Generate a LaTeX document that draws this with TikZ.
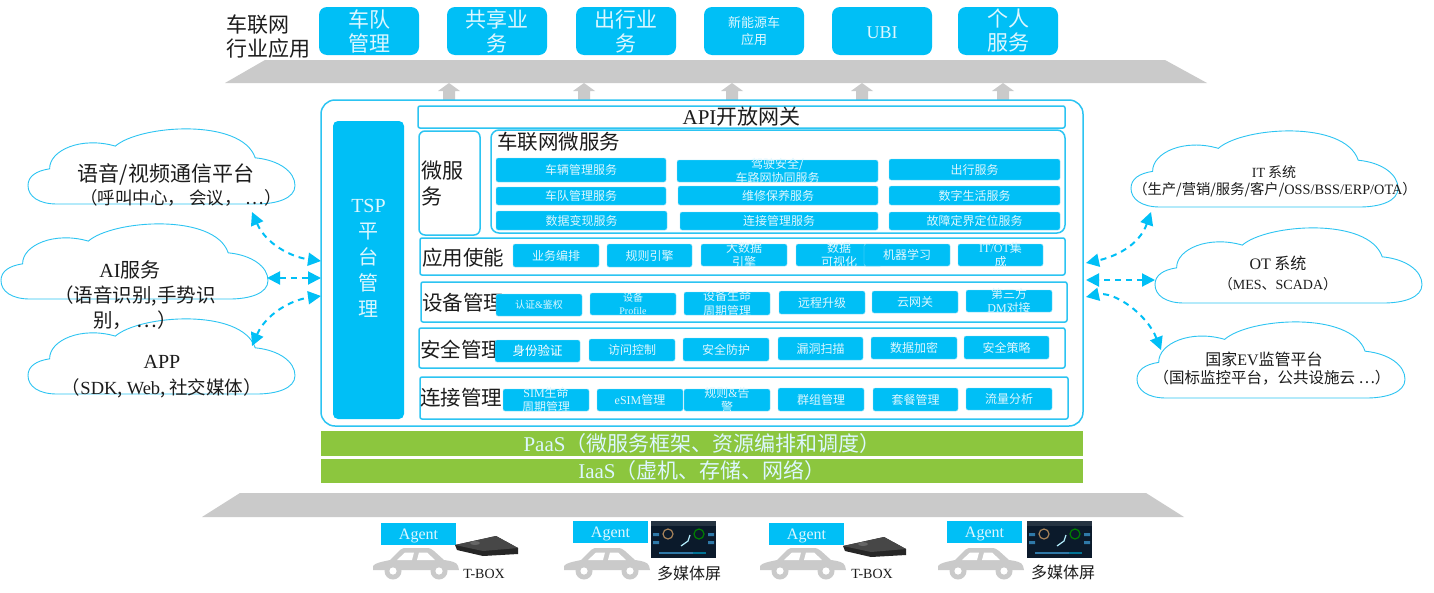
\documentclass[tikz,border=0pt]{standalone}
\usepackage{fontspec}
\setmainfont{Noto Sans CJK SC}
\newfontfamily\latinf{Liberation Serif}
\newcommand\la[1]{{\latinf #1}}
\usetikzlibrary{arrows.meta}
\definecolor{cy}{HTML}{00BFF6}
\definecolor{cyl}{HTML}{2CC4F2}
\definecolor{gr}{HTML}{8CC63E}
\definecolor{gy}{HTML}{CACACA}
\definecolor{pale}{HTML}{DDF7FF}
\definecolor{ink}{HTML}{1C1C1C}
\tikzset{
 x=1pt,y=-1pt,
 base/.style={inner sep=0pt,outer sep=0pt,rectangle},
 panel/.style={base,draw=cyl,line width=1.5pt,fill=white,rounded corners=2pt},
 btn/.style={base,fill=cy,draw=cyl!50,line width=.4pt,rounded corners=2pt},
 app/.style={base,fill=cy,rounded corners=8pt},
 lbl/.style={inner sep=0pt,outer sep=0pt,align=center,text=pale},
 blk/.style={inner sep=0pt,outer sep=0pt,align=center,text=ink},
 s10/.style={font=\fontsize{10}{13}\selectfont},
 s12/.style={font=\fontsize{12}{14.5}\selectfont},
 s13/.style={font=\fontsize{13}{17}\selectfont},
 s14/.style={font=\fontsize{14}{18}\selectfont},
 s16/.style={font=\fontsize{16}{20}\selectfont},
 s18/.style={font=\fontsize{18}{22}\selectfont},
 s20/.style={font=\fontsize{20}{25}\selectfont},
 s21/.style={font=\fontsize{21}{24}\selectfont},
 s205/.style={font=\fontsize{20.5}{25.5}\selectfont},
 agentlbl/.style={font=\fontsize{16}{18}\selectfont\latinf,yshift=-2pt},
 biarrow/.style={cy,line width=2pt,dash pattern=on 6pt off 5pt,{Triangle[length=13pt,width=13pt]}-{Triangle[length=13pt,width=13pt]}},
 cloudline/.style={draw=cyl,line width=.9pt},
 up/.style={fill=gy,draw=none},
}
% [box style]{name}{x1}{y1}{x2}{y2}{label style}{text}
\newcommand\Bx[8][btn]{%
 \pgfmathsetmacro\cx{(#3+#5)/2}\pgfmathsetmacro\cy{(#4+#6)/2}%
 \pgfmathsetmacro\ww{#5-#3}\pgfmathsetmacro\hh{#6-#4}%
 \node[#1,minimum width=\ww pt,minimum height=\hh pt] (#2) at (\cx,\cy) {};
 \node[lbl,#7] (#2t) at (#2.center) {#8};
}
\newcommand\Cloud[5]{%
 \pgfmathsetmacro\cx{(#2+#4)/2}\pgfmathsetmacro\cy{(#3+#5)/2}%
 \pgfmathsetmacro\ww{#4-#2}\pgfmathsetmacro\hh{#5-#3}%
 \node[base,minimum width=\ww pt,minimum height=\hh pt] (#1) at (\cx,\cy) {};
 \begin{scope}[shift={(#2,#3)},x=\ww pt,y=-\hh pt]
  \draw[cloudline] (.081,.543) .. controls (.08,.30) and (.20,.12) .. (.327,.248)
   .. controls (.42,-.03) and (.80,-.12) .. (.851,.40)
   .. controls (.94,.43) and (1,.58) .. (1,.76)
   .. controls (1,.93) and (.93,1) .. (.856,1)
   -- (.108,1)
   .. controls (.04,1) and (0,.90) .. (0,.76)
   .. controls (0,.64) and (.03,.57) .. (.081,.543) -- cycle;
 \end{scope}
}
\newcommand\Car[2]{%
 \begin{scope}[shift={(#1,#2)}]
  \fill[gy] (0,24) -- (0,20) .. controls (2,17) and (8,16) .. (17,14) -- (27,4)
   .. controls (29,2) and (31,2) .. (34,2) -- (53,2) .. controls (57,2) and (59,3) .. (61,5)
   -- (71,14) .. controls (78,15) and (84,16) .. (85,20) -- (86,24) -- cycle;
  \fill[white] (24,14) -- (32,6.5) -- (41,6.5) -- (39,14) -- cycle;
  \fill[white] (44,14) -- (46,6.5) -- (54,6.5) -- (62,14) -- cycle;
  \fill[gy] (20,25) circle (8.5pt) (66,25) circle (8.5pt);
  \fill[white] (20,25) circle (3.6pt) (66,25) circle (3.6pt);
 \end{scope}
}
\newcommand\Tbox[2]{%
 \begin{scope}[shift={(#1,#2)}]
  \fill[black!85] (0,9) -- (41,0) -- (63,12) -- (63,18) -- (28,20) -- (2,14) -- cycle;
  \fill[black!72] (0,9) -- (41,0) -- (63,12) -- (28,15) -- cycle;
  \fill[black!60] (20,7) ellipse (5pt and 2pt);
 \end{scope}
}
\definecolor{scrdark}{HTML}{0B1A2B}
\definecolor{scrbar}{HTML}{263442}
\definecolor{scrring}{HTML}{A8835A}
\definecolor{scrblue}{HTML}{2F79A8}
\newcommand\Screen[2]{%
 \begin{scope}[shift={(#1,#2)}]
  \fill[scrdark] (0,0) rectangle (65,37);
  \fill[scrbar] (0,0) rectangle (65,5);
  \draw[scrring,line width=1.2pt] (17,13) circle (5pt);
  \draw[green!50!black,line width=1.2pt] (48,13) circle (5pt);
  \fill[scrblue] (2,12) rectangle (8,15) (2,20) rectangle (8,23) (57,12) rectangle (63,15) (57,20) rectangle (63,23);
  \draw[white!70!cy,line width=1.2pt] (30,25) -- (37,20) -- (39,14);
  \fill[scrblue] (8,31) rectangle (42,32.5);
  \fill[black!40!cy] (42,31) rectangle (55,32.5);
 \end{scope}
}
\begin{document}
\begin{tikzpicture}
\useasboundingbox[fill=white] (0,0) rectangle (1434,592);

% top band
\fill[gy] (265,60) -- (1165,60) -- (1207,83) -- (225,83) -- cycle;
% up arrows
\foreach \n/\a in {1/449,2/584,3/732,4/862,5/1003}{
 \fill[up] (\a-6,101) -- (\a-6,91) -- (\a-11,91) -- (\a,83) -- (\a+11,91) -- (\a+6,91) -- (\a+6,101) -- cycle;
}
% applications
\node[blk,s21,align=left,anchor=west] (apptitle) at (226,37) {车联网\\行业应用};
\Bx[app]{a1}{319}{7}{419}{55}{s21}{车队\\管理}
\Bx[app]{a2}{447}{7}{547}{55}{s21}{共享业\\务}
\Bx[app]{a3}{576}{7}{676}{55}{s21}{出行业\\务}
\Bx[app]{a4}{704}{7}{804}{55}{s13}{新能源车\\应用}
\Bx[app]{a5}{832}{7}{932}{55}{font=\fontsize{18}{22}\selectfont,yshift=-2pt}{\la{UBI}}
\Bx[app]{a6}{958}{7}{1058}{55}{s21}{个人\\服务}

% main panel
\Bx[panel,rounded corners=14pt]{main}{321}{100}{1083}{426}{s12}{}
\Bx[app,rounded corners=5pt]{tsp}{333}{121}{404}{419}{font=\fontsize{20}{26}\selectfont,yshift=12pt}{\la{TSP}\\平\\台\\管\\理}
\Bx[panel]{api}{418}{106}{1065}{128}{text=ink,s21}{\la{API}开放网关}

\Bx[panel,rounded corners=6pt]{wfw}{419}{131}{480}{235}{s12}{}
\node[blk,s21,align=left,anchor=west,font=\fontsize{21}{26}\selectfont] (wfwt) at (421,183) {微服\\务};
\Bx[panel,rounded corners=8pt]{clw}{491}{130}{1065}{233}{s12}{}
\node[blk,s205,anchor=west] (clwt) at (497,142) {车联网微服务};

\Bx{s11}{496}{158}{666}{182}{s12}{车辆管理服务}
\Bx{s12}{677}{160}{878}{182}{s12}{驾驶安全/\\车路网协同服务}
\Bx{s13}{889}{159}{1060}{180}{s12}{出行服务}
\Bx{s21}{496}{187}{666}{205}{s12}{车队管理服务}
\Bx{s22}{678}{186}{878}{205}{s12}{维修保养服务}
\Bx{s23}{889}{186}{1060}{205}{s12}{数字生活服务}
\Bx{s31}{496}{211}{667}{230}{s12}{数据变现服务}
\Bx{s32}{680}{212}{878}{230}{s12}{连接管理服务}
\Bx{s33}{889}{212}{1060}{230}{s12}{故障定界定位服务}

% enablement
\Bx[panel]{r1}{420}{238}{1065}{275}{s12}{}
\node[blk,s205,anchor=west] (r1t) at (422,258) {应用使能};
\Bx{e1}{513}{244}{599}{267}{s12}{业务编排}
\Bx{e2}{607}{244}{692}{267}{s12}{规则引擎}
\Bx{e3}{701}{244}{787}{266}{s12}{大数据\\引擎}
\Bx{e4}{796}{244}{882}{266}{s12}{数据\\可视化}
\Bx{e5}{864}{244}{950}{266}{s12}{机器学习}
\Bx{e6}{958}{244}{1043}{266}{s12}{\la{IT/OT}集\\成}

% device
\Bx[panel]{r2}{421}{282}{1067}{322}{s12}{}
\node[blk,s205,anchor=west] (r2t) at (422,303) {设备管理};
\Bx{d1}{496}{294}{582}{316}{s10}{认证\la{\&}鉴权}
\Bx{d2}{590}{293}{676}{315}{s10}{设备\\\la{Profile}}
\Bx{d3}{684}{292}{770}{315}{s12}{设备生命\\周期管理}
\Bx{d4}{779}{291}{865}{314}{s12}{远程升级}
\Bx{d5}{872}{291}{958}{313}{s12}{云网关}
\Bx{d6}{966}{290}{1052}{312}{s12}{第三方\\\la{DM}对接}

% security
\Bx[panel]{r3}{419}{328}{1065}{368}{s12}{}
\node[blk,s205,anchor=west] (r3t) at (420,350) {安全管理};
\Bx{f1}{495}{340}{580}{362}{text=white,font=\fontsize{12.5}{15}\selectfont}{身份验证}
\Bx{f2}{589}{339}{675}{361}{s12}{访问控制}
\Bx{f3}{683}{338}{769}{361}{s12}{安全防护}
\Bx{f4}{778}{337}{863}{360}{s12}{漏洞扫描}
\Bx{f5}{871}{337}{957}{359}{s12}{数据加密}
\Bx{f6}{964}{336}{1049}{359}{s12}{安全策略}

% connectivity
\Bx[panel]{r4}{420}{377}{1068}{419}{s12}{}
\node[blk,s205,anchor=west] (r4t) at (420,398) {连接管理};
\Bx{g1}{503}{389}{589}{411}{s12}{\la{SIM}生命\\周期管理}
\Bx{g2}{597}{389}{683}{411}{s12}{\la{eSIM}管理}
\Bx{g3}{684}{389}{770}{411}{s12}{规则\la{\&}告\\警}
\Bx{g4}{778}{388}{864}{411}{s12}{群组管理}
\Bx{g5}{873}{388}{958}{411}{s12}{套餐管理}
\Bx{g6}{966}{388}{1052}{410}{s12}{流量分析}

% PaaS IaaS
\Bx[base,fill=gr]{paas}{321}{431}{1083}{456}{font=\fontsize{21}{24}\selectfont}{\la{PaaS}（微服务框架、资源编排和调度）}
\Bx[base,fill=gr]{iaas}{321}{459}{1083}{483}{font=\fontsize{21}{24}\selectfont}{\la{IaaS}（虚机、存储、网络）}

% bottom band
\fill[gy] (240,493) -- (1146,493) -- (1184,517) -- (202,517) -- cycle;

% vehicles
\Car{373}{546}\Car{564}{546}\Car{760}{546}\Car{938}{546}
\Bx[base,fill=cy]{ag1}{381}{523}{456}{545}{agentlbl}{Agent}
\Bx[base,fill=cy]{ag2}{573}{521}{648}{543}{agentlbl}{Agent}
\Bx[base,fill=cy]{ag3}{769}{523}{844}{545}{agentlbl}{Agent}
\Bx[base,fill=cy]{ag4}{947}{521}{1022}{543}{agentlbl}{Agent}
\Tbox{455}{536}\Tbox{843}{537}
\Screen{651}{521}\Screen{1027}{521}
\node[blk,font=\fontsize{14}{16}\selectfont\latinf] (v1) at (484,574) {T-BOX};
\node[blk,s16] (v2) at (689,573) {多媒体屏};
\node[blk,font=\fontsize{14}{16}\selectfont\latinf] (v3) at (872,574) {T-BOX};
\node[blk,s16] (v4) at (1063,572) {多媒体屏};

% clouds left
\Cloud{c1}{28}{127}{295}{204}
\Cloud{c2}{1}{222}{268}{299}
\Cloud{c3}{28}{317}{295}{394}
\node[blk,font=\fontsize{21}{25}\selectfont] (c1a) at (166,174) {语音/视频通信平台};
\node[blk,font=\fontsize{17.5}{20}\selectfont] (c1b) at (181,198) {（呼叫中心， 会议， …）};
\node[blk,s20] (c2a) at (130,270) {\la{AI}服务};
\node[blk,font=\fontsize{19.5}{25}\selectfont] (c2b) at (135,308) {（语音识别,手势识\\别， …）};
\node[blk,s20,font=\fontsize{20}{24}\selectfont\latinf] (c3a) at (162,362) {APP};
\node[blk,font=\fontsize{18.5}{20}\selectfont] (c3b) at (162,388) {（\la{SDK}, \la{Web}, 社交媒体）};

% clouds right
\Cloud{d1c}{1131}{129}{1398}{207}
\Cloud{d2c}{1155}{226}{1422}{303}
\Cloud{d3c}{1137}{320}{1405}{398}
\node[blk,s14] (d1a) at (1274,172) {\la{IT} 系统};
\node[blk,font=\fontsize{14.3}{18}\selectfont] (d1b) at (1275,190) {（生产/营销/服务/客户/\la{OSS/BSS/ERP/OTA}）};
\node[blk,s16] (d2a) at (1278,263) {\la{OT} 系统};
\node[blk,s14] (d2b) at (1278,284) {（\la{MES}、\la{SCADA}）};
\node[blk,s16] (d3a) at (1264,359) {国家\la{EV}监管平台};
\node[blk,font=\fontsize{15.5}{18}\selectfont] (d3b) at (1272,378) {（国标监控平台，公共设施云 …）};

% connector ends
\coordinate (l1a) at (252,212);\coordinate (l1b) at (321,261);
\coordinate (l2a) at (267,278);\coordinate (l2b) at (321,278);
\coordinate (l3a) at (252,346);\coordinate (l3b) at (321,296);
\coordinate (r1a) at (1151,212);\coordinate (r1b) at (1086,263);
\coordinate (r2a) at (1155,280);\coordinate (r2b) at (1086,280);
\coordinate (r3a) at (1161,350);\coordinate (r3b) at (1086,297);
\draw[biarrow] (l1a) .. controls +(14,32) and +(-30,-4) .. (l1b);
\draw[biarrow] (l2a) -- (l2b);
\draw[biarrow] (l3a) .. controls +(14,-32) and +(-30,4) .. (l3b);
\draw[biarrow] (r1a) .. controls +(-12,34) and +(28,-6) .. (r1b);
\draw[biarrow] (r2a) -- (r2b);
\draw[biarrow] (r3a) .. controls +(-14,-36) and +(28,-6) .. (r3b);
\end{tikzpicture}
\end{document}
